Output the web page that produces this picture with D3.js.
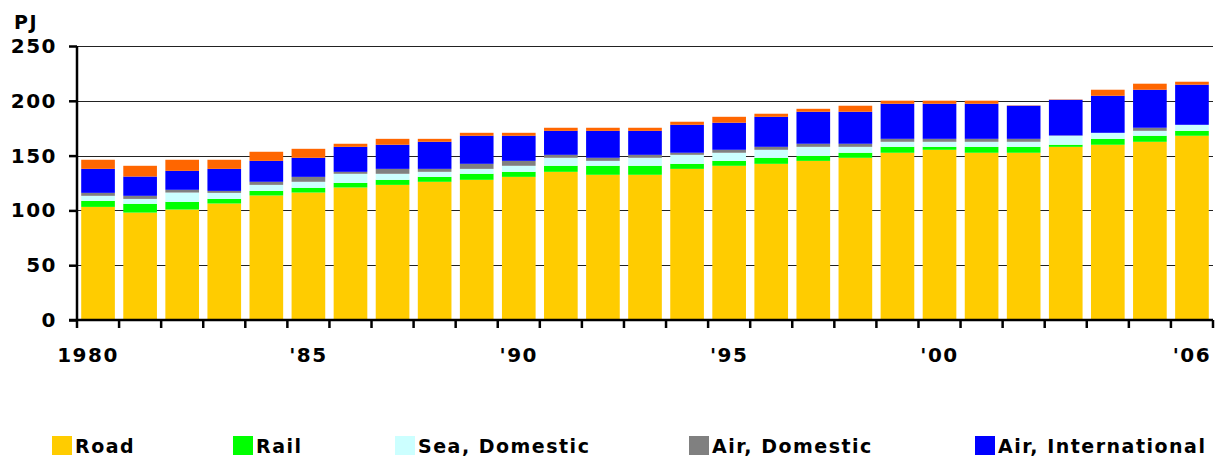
<!DOCTYPE html>
<html>
<head>
<meta charset="utf-8">
<script src="https://cdn.jsdelivr.net/npm/d3@7"></script>
<style>
  body { margin: 0; background: #fff; }
  text { font-family: "DejaVu Sans", Verdana, sans-serif; font-weight: bold; fill: #000; }
</style>
</head>
<body>
<div id="vis"></div>
<script>
const FRAME_WIDTH = 1221;
const FRAME_HEIGHT = 458;
const MARGINS = {left: 77, right: 8, top: 46, bottom: 138};
const VIS_WIDTH = FRAME_WIDTH - MARGINS.left - MARGINS.right;
const VIS_HEIGHT = FRAME_HEIGHT - MARGINS.top - MARGINS.bottom;

// data (PJ)
const years = d3.range(1980, 2007);
const road   = [103.2, 98.0, 100.8, 106.3, 113.6, 116.3, 120.9, 123.3, 126.1, 127.9, 130.6, 135.2, 132.5, 132.5, 137.9, 140.7, 142.5, 145.2, 148.0, 152.6, 155.3, 152.6, 152.6, 158.0, 159.9, 162.6, 168.1];
const rail   = [5.5, 8.0, 7.0, 4.2, 4.2, 4.3, 4.2, 4.6, 4.5, 5.5, 4.6, 5.5, 8.2, 8.2, 4.6, 4.5, 5.5, 4.6, 4.6, 5.4, 2.7, 5.4, 5.4, 1.9, 5.4, 5.5, 4.5];
const seaDom = [4.6, 4.5, 8.5, 5.5, 5.5, 5.5, 8.3, 5.5, 4.6, 4.5, 5.5, 7.3, 4.5, 7.3, 8.2, 7.4, 7.3, 8.2, 5.4, 4.6, 4.6, 4.6, 4.6, 8.2, 5.5, 4.5, 5.5];
const airDom = [2.7, 2.8, 2.5, 1.8, 2.8, 4.5, 1.8, 4.5, 2.7, 4.6, 4.5, 2.7, 2.8, 2.7, 1.9, 2.7, 2.7, 2.8, 2.8, 2.7, 2.7, 2.7, 2.7, 0.3, 0, 2.8, 0];
const airInt = [21.9, 17.6, 17.3, 20.1, 19.1, 17.4, 22.8, 22.0, 24.7, 25.6, 22.9, 21.9, 24.6, 21.9, 25.5, 24.7, 27.4, 29.2, 29.2, 32.0, 32.0, 32.0, 30.2, 32.5, 33.8, 34.7, 36.6];
const other  = [8.3, 9.8, 10.1, 8.3, 8.3, 8.2, 2.8, 5.4, 2.7, 2.7, 2.7, 2.8, 2.8, 2.8, 2.8, 5.4, 2.8, 2.7, 5.5, 2.8, 2.8, 2.8, 0.3, 0.3, 5.5, 5.5, 2.7];

const seriesNames = ["Road", "Rail", "Sea, Domestic", "Air, Domestic", "Air, International", "Other"];
const seriesValues = [road, rail, seaDom, airDom, airInt, other];
const colors = ["#FFCC00", "#00FF00", "#CCFFFF", "#808080", "#0000FF", "#FF6600"];
const yTicks = [0, 50, 100, 150, 200, 250];
const xLabels = {1980: "1980", 1985: "'85", 1990: "'90", 1995: "'95", 2000: "'00", 2006: "'06"};
const legendX = [52, 233, 395, 689, 975];

// table for the stack
const rows = years.map((y, i) => {
  const r = {year: y};
  seriesNames.forEach((s, k) => { r[s] = seriesValues[k][i]; });
  return r;
});

const SVG = d3.select("#vis")
  .append("svg")
    .attr("width", FRAME_WIDTH)
    .attr("height", FRAME_HEIGHT);

const X_SCALE = d3.scaleBand()
  .domain(years)
  .range([0, VIS_WIDTH])
  .paddingInner(0.2)
  .paddingOuter(0.1);

const Y_SCALE = d3.scaleLinear()
  .domain([0, 250])
  .range([VIS_HEIGHT, 0]);

const G = SVG.append("g")
  .attr("transform", "translate(" + MARGINS.left + "," + MARGINS.top + ")");

// gridlines
G.selectAll(".grid")
  .data(yTicks.filter(d => d > 0))
  .enter()
  .append("line")
    .attr("x1", 0)
    .attr("x2", VIS_WIDTH)
    .attr("y1", d => Math.round(Y_SCALE(d)) + 0.5)
    .attr("y2", d => Math.round(Y_SCALE(d)) + 0.5)
    .attr("stroke", "#222")
    .attr("stroke-width", 1.2);

// stacked bars
const stacked = d3.stack().keys(seriesNames)(rows);

G.selectAll(".layer")
  .data(stacked)
  .enter()
  .append("g")
    .attr("fill", (d, i) => colors[i])
  .selectAll("rect")
  .data(d => d)
  .enter()
  .append("rect")
    .attr("x", d => X_SCALE(d.data.year))
    .attr("y", d => Y_SCALE(d[1]))
    .attr("width", X_SCALE.bandwidth())
    .attr("height", d => Y_SCALE(d[0]) - Y_SCALE(d[1]));

// y axis
const yAxis = G.append("g")
  .call(d3.axisLeft(Y_SCALE).tickValues(yTicks).tickSize(8).tickPadding(12));
yAxis.select(".domain").attr("stroke-width", 2.5).attr("d", "M0," + VIS_HEIGHT + "V0");
yAxis.selectAll(".tick line").attr("stroke-width", 2.5);
yAxis.selectAll("text")
  .attr("font-size", 20)
  .attr("font-family", "'DejaVu Sans', Verdana, sans-serif")
  .attr("font-weight", "bold")
  .attr("letter-spacing", 1.5)
  .attr("fill", "#000");

// x axis: ticks between the bars
const step = X_SCALE.step();
const tickPos = years.map(y => X_SCALE(y) - step * X_SCALE.paddingInner() / 2).concat([VIS_WIDTH]);
const xAxis = G.append("g").attr("transform", "translate(0," + VIS_HEIGHT + ")");
xAxis.append("line")
  .attr("x1", -8).attr("x2", VIS_WIDTH)
  .attr("stroke", "#000").attr("stroke-width", 2.5);
xAxis.selectAll(".xt")
  .data(tickPos)
  .enter()
  .append("line")
    .attr("x1", d => d).attr("x2", d => d)
    .attr("y1", 0).attr("y2", 8)
    .attr("stroke", "#000").attr("stroke-width", 2.5);
xAxis.selectAll(".xl")
  .data(years.filter(y => xLabels[y]))
  .enter()
  .append("text")
    .attr("x", d => X_SCALE(d) + X_SCALE.bandwidth() / 2 - (d === 1980 ? 10 : 0))
    .attr("y", 42)
    .attr("text-anchor", "middle")
    .attr("font-size", 20)
    .attr("letter-spacing", 1.5)
    .text(d => xLabels[d]);

// unit label
SVG.append("text")
  .attr("x", 14)
  .attr("y", 29)
  .attr("font-size", 19)
  .attr("letter-spacing", 1.5)
  .text("PJ");

// legend
const LEG = SVG.selectAll(".leg")
  .data(seriesNames.slice(0, 5))
  .enter()
  .append("g")
    .attr("transform", (d, i) => "translate(" + legendX[i] + ",436)");
LEG.append("rect")
  .attr("width", 20).attr("height", 19)
  .attr("fill", (d, i) => colors[i]);
LEG.append("text")
  .attr("x", 23)
  .attr("y", 17)
  .attr("font-size", 19)
  .attr("letter-spacing", 1.5)
  .text(d => d);
</script>
</body>
</html>
